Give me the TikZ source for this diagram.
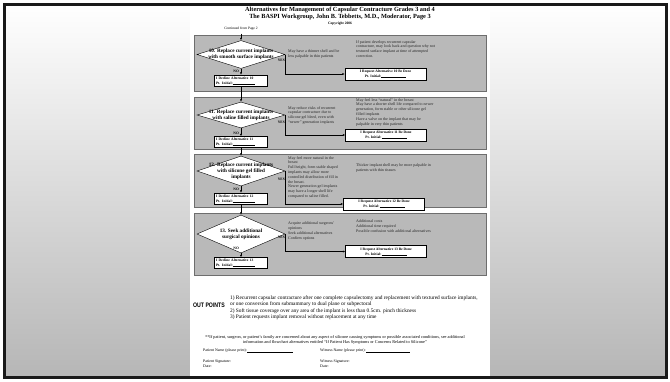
\documentclass[tikz,border=0pt]{standalone}
\usepackage{fontspec}
\setmainfont{Liberation Serif}
\newfontfamily\condfont[FakeStretch=0.8]{Liberation Sans}
\usetikzlibrary{positioning,arrows.meta,shapes.geometric}
\definecolor{panelgray}{HTML}{B9B9B9}
\definecolor{paneledge}{HTML}{6E6E6E}
\definecolor{framegray}{HTML}{B6B6B6}

\begin{document}
\begin{tikzpicture}[x=1pt, y=-1pt,
  panel/.style={draw=paneledge, fill=panelgray, line width=0.8pt},
  dec/.style={diamond, draw, fill=white, inner sep=0pt, minimum width=88pt},
  dectxt/.style={font=\fontsize{5.2}{6}\selectfont\bfseries, align=center, inner sep=0pt},
  declinebox/.style={rectangle, draw, fill=white, minimum width=53pt, minimum height=11pt, inner sep=1.5pt, text width=50pt, align=left, font=\fontsize{3.6}{4.6}\selectfont\bfseries},
  reqbox/.style={rectangle, draw, fill=white, minimum width=81pt, minimum height=12pt, inner sep=1.5pt, align=center, font=\fontsize{3.6}{4.6}\selectfont\bfseries},
  note/.style={font=\fontsize{4}{4.8}\selectfont, align=left, anchor=north west, inner sep=0pt, text=black!85},
  lbl/.style={font=\fontsize{3.6}{4}\selectfont\bfseries, inner sep=0pt},
  flow/.style={-{Latex[length=2.5pt,width=2pt]}, line width=0.4pt}
]
\useasboundingbox (0,0) rectangle (670,381);
% Frame and page
\fill[white] (0,0) rectangle (670,381);
\shade[top color=white, bottom color=framegray] (4,4) rectangle (666,377);
\fill[white] (190,5) rectangle (490,376);
\draw[line width=3pt, black!90] (4,4) rectangle (666,377);
% Title
\node[font=\fontsize{6.3}{7}\selectfont\bfseries] (title1) at (340,9.5) {Alternatives for Management of Capsular Contracture Grades 3 and 4};
\node[font=\fontsize{6.3}{7}\selectfont\bfseries] (title2) at (340,17.5) {The BASPI Workgroup, John B. Tebbetts, M.D., Moderator, Page 3};
\node[font=\fontsize{3.6}{4}\selectfont\bfseries] (copy) at (340,23.5) {Copyright 2006};
\node[font=\fontsize{3.6}{4}\selectfont] (cont) at (241,28.5) {Continued from Page 2};
% Panels
\draw[panel] (194,35) rectangle (486,91);
\draw[panel] (194,97) rectangle (486,149);
\draw[panel] (194,154) rectangle (486,207);
\draw[panel] (194,213) rectangle (486,275);
% Alternative 10
\node[dec, minimum height=28pt] (d10) at (241,54.5) {};
\node[dectxt] (t10) at (d10) {10. Replace current implants\\with smooth surface implants};
\node[declinebox] (dec10) at (241,80.5) {I Decline Alternative 10\\Pt. Initial:\rule{22pt}{0.3pt}};
\node[reqbox] (req10) at (385.5,74) {I Request Alternative 10 Be Done\\Pt. Initial:\rule{25pt}{0.3pt}};
\node[note] (m10) at (288,50) {May have a thinner shell and be\\less palpable in thin patients};
\node[note] (r10) at (356,40) {If patient develops recurrent capsular\\contracture, may look back and question why not\\textured surface implant at time of attempted\\correction.};
\node[lbl, anchor=east] (y10) at (285,60.5) {YES};
\node[lbl, anchor=east] (n10) at (239,71) {NO};
% Alternative 11
\node[dec, minimum height=26pt] (d11) at (241,115) {};
\node[dectxt] (t11) at (d11) {11. Replace current implants\\with saline filled implants};
\node[declinebox] (dec11) at (241,142) {I Decline Alternative 11\\Pt. Initial:\rule{22pt}{0.3pt}};
\node[reqbox] (req11) at (386,135) {I Request Alternative 11 Be Done\\Pt. Initial:\rule{25pt}{0.3pt}};
\node[note] (m11) at (288,106) {May reduce risks of recurrent\\capsular contracture due to\\silicone gel bleed, even with\\``newer'' generation implants};
\node[note] (r11) at (356,98) {May feel less ``natural'' in the breast\\May have a shorter shell life compared to newer\\generation, form stable or other silicone gel\\filled implants\\Have a valve on the implant that may be\\palpable in very thin patients};
\node[lbl, anchor=east] (y11) at (285,122) {YES};
\node[lbl, anchor=east] (n11) at (239,133) {NO};
% Alternative 12
\node[dec, minimum height=30pt] (d12) at (241,171) {};
\node[dectxt] (t12) at (d12) {12. Replace current implants\\with silicone gel filled\\implants};
\node[declinebox] (dec12) at (241,198.5) {I Decline Alternative 12\\Pt. Initial:\rule{22pt}{0.3pt}};
\node[reqbox] (req12) at (384,204) {I Request Alternative 12 Be Done\\Pt. Initial:\rule{25pt}{0.3pt}};
\node[note] (m12) at (288,156) {May feel more natural in the\\breast\\Full height, form stable shaped\\implants may allow more\\controlled distribution of fill in\\the breast.\\Newer generation gel implants\\may have a longer shell life\\compared to saline filled.};
\node[note] (r12) at (356,164) {Thicker implant shell may be more palpable in\\patients with thin tissues};
\node[lbl, anchor=east] (y12) at (285,179) {YES};
\node[lbl, anchor=east] (n12) at (239,189.5) {NO};
% Alternative 13
\node[dec, minimum height=38pt] (d13) at (241,234) {};
\node[dectxt] (t13) at (d13) {13. Seek additional\\surgical opinions};
\node[declinebox] (dec13) at (241,263) {I Decline Alternative 13\\Pt. Initial:\rule{22pt}{0.3pt}};
\node[reqbox] (req13) at (386,251.5) {I Request Alternative 13 Be Done\\Pt. Initial:\rule{25pt}{0.3pt}};
\node[note] (m13) at (288,222) {Acquire additional surgeons'\\opinions\\Seek additional alternatives\\Confirm options};
\node[note] (r13) at (356,220) {Additional costs\\Additional time required\\Possible confusion with additional alternatives};
\node[lbl, anchor=east] (y13) at (285,237.5) {YES};
\node[lbl, anchor=east] (n13) at (239,248) {NO};
% Connectors
\draw[flow] (cont) -- (d10);
\foreach \k in {10,11,12,13}{
  \draw[flow] (d\k.south) -- (dec\k.north);
  \draw[flow] (d\k.east) |- (req\k.west);
}
\draw[flow] (dec10) -- (d11);
\draw[flow] (dec11) -- (d12);
\draw[flow] (dec12) -- (d13);
% Out points
\node[font=\condfont\fontsize{6.5}{7}\selectfont\bfseries, inner sep=0pt] (outpts) at (209,305) {OUT POINTS};
\node[font=\fontsize{5.35}{6.5}\selectfont, align=left, anchor=west, inner sep=0pt] (outlist) at (230,307.5) {1) Recurrent capsular contracture after one complete capsulectomy and replacement with textured surface implants,\\or one conversion from submammary to dual plane or subpectoral\\2) Soft tissue coverage over any area of the implant is less than 0.5cm. pinch thickness\\3) Patient requests implant removal without replacement at any time};
% Footnote and signatures
\node[font=\fontsize{4.3}{5}\selectfont, align=center, inner sep=0pt] (foot) at (335,339.5) {**If patient, surgeon, or patient's family are concerned about any aspect of silicone causing symptoms or possible associated conditions, see additional\\information and flowchart alternatives entitled ``If Patient Has Symptoms or Concerns Related to Silicone''};
\node[font=\fontsize{3.9}{5}\selectfont, anchor=west, inner sep=0pt] (pname) at (203,351) {Patient Name (please print):\rule{46pt}{0.3pt}};
\node[font=\fontsize{3.9}{5}\selectfont, anchor=west, inner sep=0pt] (wname) at (320,351) {Witness Name (please print):\,\rule{44pt}{0.3pt}};
\node[font=\fontsize{3.9}{5}\selectfont, align=left, anchor=west, inner sep=0pt] (psig) at (203,363.5) {Patient Signature:\\Date:};
\node[font=\fontsize{3.9}{5}\selectfont, align=left, anchor=west, inner sep=0pt] (wsig) at (320,363.5) {Witness Signature:\\Date:};
\end{tikzpicture}
\end{document}
